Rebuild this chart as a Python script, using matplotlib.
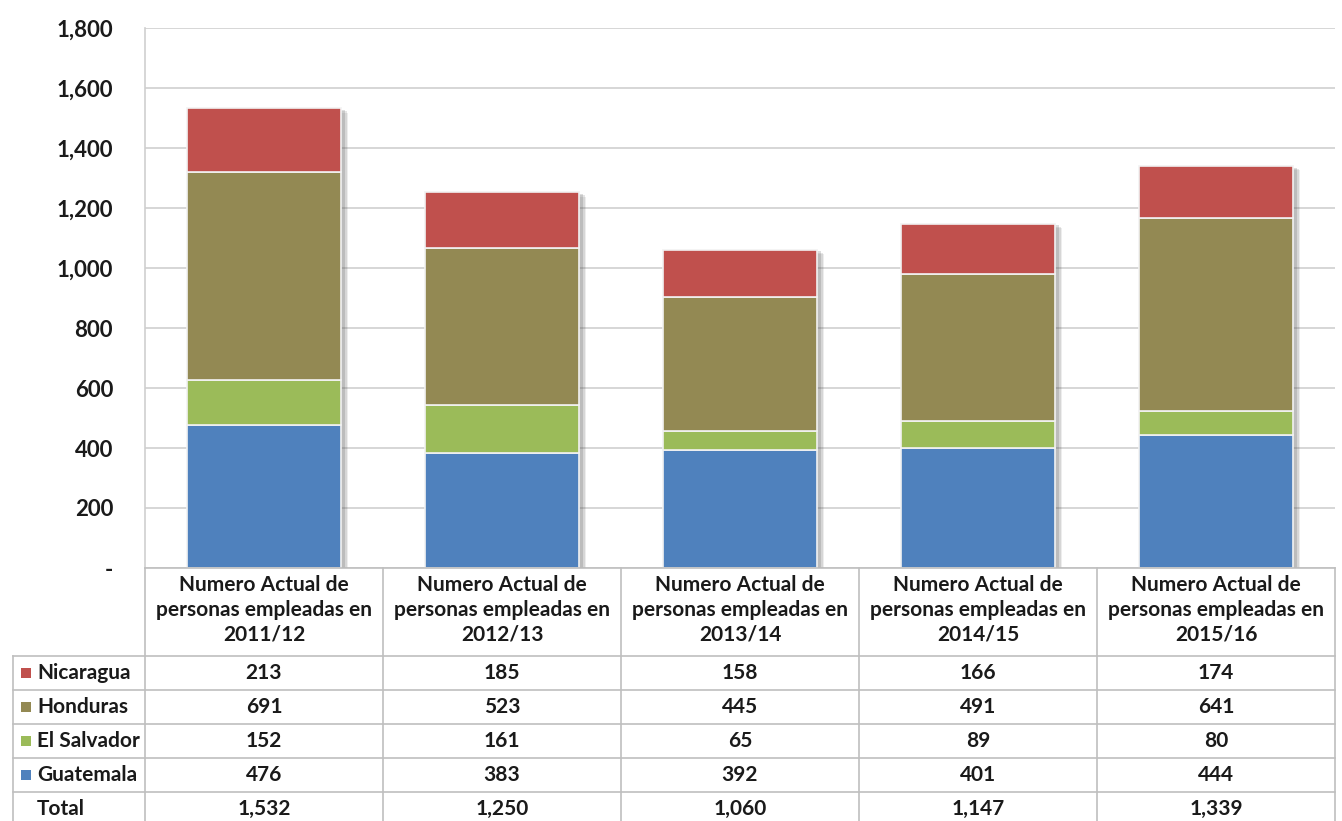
import matplotlib
matplotlib.use("Agg")
import matplotlib.pyplot as plt
import matplotlib.patheffects as pe
from matplotlib.patches import Rectangle
import numpy as np

plt.rcParams['font.family'] = ['Lato', 'DejaVu Sans']

# Data
periods = ["2011/12", "2012/13", "2013/14", "2014/15", "2015/16"]
header_prefix = "Numero Actual de\npersonas empleadas en\n"
countries = ["Guatemala", "El Salvador", "Honduras", "Nicaragua"]
guatemala = [476, 383, 392, 401, 444]
el_salvador = [152, 161, 65, 89, 80]
honduras = [691, 523, 445, 491, 641]
nicaragua = [213, 185, 158, 166, 174]
totals = [1532, 1250, 1060, 1147, 1339]
colors = {"Guatemala": "#4F81BD", "El Salvador": "#9BBB59",
          "Honduras": "#938953", "Nicaragua": "#C0504D"}
yticks = [0, 200, 400, 600, 800, 1000, 1200, 1400, 1600, 1800]

series = {"Guatemala": guatemala, "El Salvador": el_salvador,
          "Honduras": honduras, "Nicaragua": nicaragua}
stack_tops = np.sum([series[c] for c in countries], axis=0)

W, H = 1342, 821
fig = plt.figure(figsize=(W / 100, H / 100), dpi=100)

# Plot area in pixel geometry
px_left, px_right, px_top, px_bottom = 145, 1335, 28, 568
ax = fig.add_axes([px_left / W, 1 - px_bottom / H,
                   (px_right - px_left) / W, (px_bottom - px_top) / H])

x = np.arange(len(periods))
bw = 0.647

# Soft shadow behind each full stack
for off, a in [((5, -3), 0.10), ((4, -2), 0.15), ((3, -1), 0.2)]:
    ax.bar(x, stack_tops, width=bw, color='none', edgecolor='none', zorder=2,
           path_effects=[pe.SimplePatchShadow(offset=off, shadow_rgbFace='#555555', alpha=a)])

bottom = np.zeros(len(periods))
for c in countries:
    vals = np.array(series[c])
    ax.bar(x, vals, width=bw, bottom=bottom, color=colors[c],
           edgecolor='#f2f2f2', linewidth=1.2, zorder=3)
    bottom += vals

ax.set_xlim(-0.5, len(periods) - 0.5)
ax.set_ylim(0, 1800)
ax.set_yticks(yticks)
ax.set_yticklabels(["-" if v == 0 else f"{v:,}" for v in yticks],
                   fontsize=16, fontweight='bold', color='#1a1a1a')
ax.tick_params(axis='y', length=0, pad=23)
ax.set_xticks([])
ax.yaxis.grid(True, color='#cfcfcf', linewidth=1.2, zorder=0)
ax.set_axisbelow(True)
for s in ['top', 'right', 'bottom']:
    ax.spines[s].set_visible(False)
ax.spines['left'].set_color('#cfcfcf')
ax.spines['left'].set_linewidth(1.2)

# Data table below the plot
leg_w = 132 / 238.0
tab_left_px = 13
tab = fig.add_axes([tab_left_px / W, 0, (px_right - tab_left_px) / W, (H - px_bottom) / H])
tab.set_xlim(-0.5 - leg_w, len(periods) - 0.5)
tab.set_ylim(H - px_bottom, 0)
tab.axis('off')

line_kw = dict(color='#bfbfbf', linewidth=1.2, clip_on=False)
header_h = 88
row_h = 34
row_labels = ["Nicaragua", "Honduras", "El Salvador", "Guatemala", "Total"]
n_rows = len(row_labels)
bottom_y = header_h + n_rows * row_h

# vertical lines
for i in range(len(periods) + 1):
    xv = i - 0.5
    tab.plot([xv, xv], [0, bottom_y], **line_kw)
tab.plot([-0.5 - leg_w, -0.5 - leg_w], [header_h, bottom_y], **line_kw)
# horizontal lines
tab.plot([-0.5, len(periods) - 0.5], [0, 0], **line_kw)
for r in range(n_rows + 1):
    yv = header_h + r * row_h
    tab.plot([-0.5 - leg_w, len(periods) - 0.5], [yv, yv], **line_kw)

txt_kw = dict(fontsize=15, fontweight='bold', color='#1a1a1a')
for i, p in enumerate(periods):
    tab.text(i, 42, header_prefix + p, ha='center', va='center',
             linespacing=1.3, **txt_kw)

for r, lab in enumerate(row_labels):
    yc = header_h + r * row_h + row_h / 2
    if lab == "Total":
        vals = totals
    else:
        vals = series[lab]
        tab.add_patch(Rectangle((-0.5 - leg_w + 8 / 238, yc - 5), 10 / 238, 10,
                                facecolor=colors[lab], edgecolor='none', clip_on=False))
    tab.text(-0.5 - leg_w + 24 / 238, yc, lab, ha='left', va='center', **txt_kw)
    for i, v in enumerate(vals):
        tab.text(i, yc, f"{int(v):,}", ha='center', va='center', **txt_kw)

fig.savefig("out.png", dpi=100, facecolor='white')
